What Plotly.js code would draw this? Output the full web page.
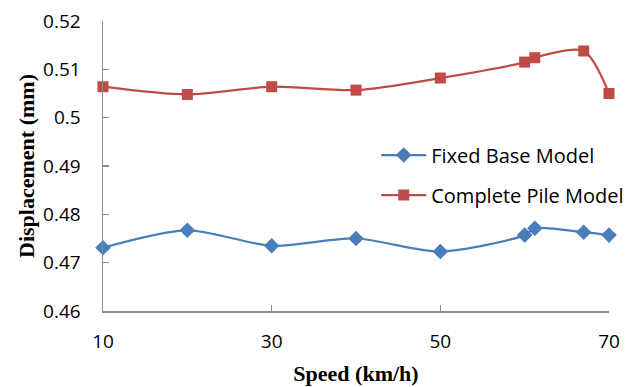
<!DOCTYPE html>
<html>
<head>
<meta charset="utf-8">
<script src="https://cdn.plot.ly/plotly-3.0.1.min.js"></script>
<style>body{margin:0;background:#fff}#chart{width:641px;height:387px}</style>
</head>
<body>
<div id="chart"></div>
<script>
var speed = [10, 20, 30, 40, 50, 60, 61.2, 67, 70];
var fixedBase = [0.4731, 0.4767, 0.4735, 0.4750, 0.4723, 0.4757, 0.4771, 0.4763, 0.4757];
var completePile = [0.5064, 0.5048, 0.5064, 0.5057, 0.5082, 0.5115, 0.5124, 0.5138, 0.5050];
var seriesNames = ["Fixed Base Model", "Complete Pile Model"];
var xTickVals = [10, 30, 50, 70];
var xTickText = ["10", "30", "50", "70"];
var yTickVals = [0.46, 0.47, 0.48, 0.49, 0.50, 0.51, 0.52];
var yTickText = ["0.46", "0.47", "0.48", "0.49", "0.5", "0.51", "0.52"];

var traces = [
  {x: speed, y: fixedBase, name: seriesNames[0], type: 'scatter', mode: 'lines+markers',
   legendgroup: 'a', cliponaxis: false,
   line: {color: '#4A7EBB', width: 2.25, shape: 'spline', smoothing: 0.8},
   marker: {symbol: 'diamond', size: 12, color: '#4A7EBB'}},
  {x: speed, y: completePile, name: seriesNames[1], type: 'scatter', mode: 'lines+markers',
   legendgroup: 'b', cliponaxis: false,
   line: {color: '#BE4B48', width: 2.25, shape: 'spline', smoothing: 0.8},
   marker: {symbol: 'square', size: 11, color: '#BE4B48'}}
];

var layout = {
  width: 641, height: 387,
  margin: {l: 103, r: 30, t: 21, b: 76},
  paper_bgcolor: '#fff', plot_bgcolor: '#fff',
  showlegend: true,
  legend: {x: 0.54, y: 0.605, xanchor: 'left', yanchor: 'top',
           font: {family: 'Open Sans', size: 20, color: '#000'},
           itemwidth: 45, tracegroupgap: 11, traceorder: 'grouped',
           bgcolor: 'rgba(0,0,0,0)'},
  xaxis: {range: [10, 70], tickmode: 'array', tickvals: xTickVals, ticktext: xTickText,
          showgrid: false, zeroline: false, showline: true, linecolor: '#8C8C8C', linewidth: 1.5,
          ticks: 'inside', ticklen: 6, tickcolor: '#8C8C8C', tickwidth: 1.5,
          ticklabelstandoff: 13,
          tickfont: {family: 'Open Sans', size: 19, color: '#000'},
          title: {text: 'Speed (km/h)', font: {family: 'Liberation Serif', size: 22, color: '#000', weight: 'bold'}, standoff: 12}},
  yaxis: {range: [0.46, 0.52], tickmode: 'array', tickvals: yTickVals, ticktext: yTickText,
          showgrid: false, zeroline: false, showline: true, linecolor: '#8C8C8C', linewidth: 1.5,
          ticks: 'inside', ticklen: 6, tickcolor: '#8C8C8C', tickwidth: 1.5,
          ticklabelstandoff: 17,
          tickfont: {family: 'Open Sans', size: 19, color: '#000'},
          title: {text: 'Displacement (mm)', font: {family: 'Liberation Serif', size: 22, color: '#000', weight: 'bold'}, standoff: 2}}
};

Plotly.newPlot('chart', traces, layout, {displayModeBar: false, staticPlot: true});
</script>
</body>
</html>
